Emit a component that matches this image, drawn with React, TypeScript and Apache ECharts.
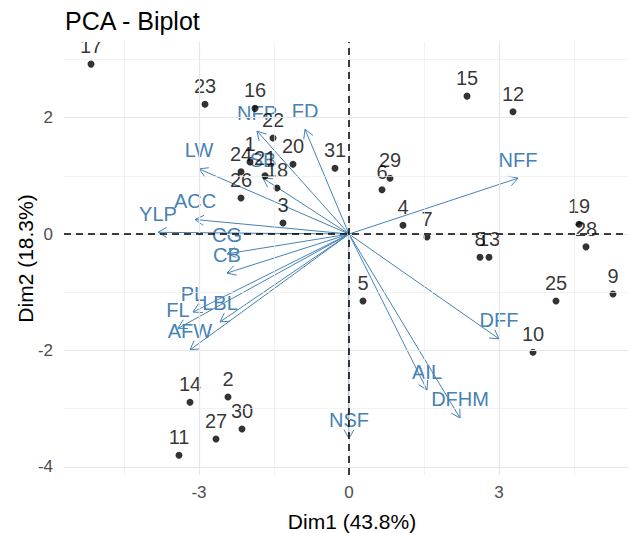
import React, { useEffect, useRef } from "react";
import * as echarts from "echarts";

const FONT = "'Liberation Sans', Arial, Helvetica, sans-serif";
const VAR_COLOR = "#4682B4";

// Individuals (samples)
const indNames = [
  "1", "2", "3", "4", "5", "6", "7", "8", "9", "10",
  "11", "12", "13", "14", "15", "16", "17", "18", "19", "20",
  "21", "22", "23", "24", "25", "26", "27", "28", "29", "30", "31",
];
const indX = [
  -1.98, -2.42, -1.32, 1.08, 0.28, 0.66, 1.56, 2.62, 5.28, 3.68,
  -3.4, 3.28, 2.8, -3.18, 2.36, -1.88, -5.16, -1.44, 4.6, -1.12,
  -1.68, -1.52, -2.88, -2.16, 4.14, -2.16, -2.66, 4.74, 0.82, -2.14, -0.28,
];
const indY = [
  1.24, -2.8, 0.19, 0.15, -1.15, 0.76, -0.05, -0.4, -1.03, -2.03,
  -3.8, 2.1, -0.4, -2.89, 2.37, 2.16, 2.92, 0.79, 0.17, 1.2,
  1.0, 1.65, 2.23, 1.07, -1.15, 0.62, -3.52, -0.22, 0.96, -3.35, 1.13,
];

// Variables (loadings arrows)
const varNames = [
  "NFF", "FD", "NFP", "LW", "SB", "ACC", "YLP", "CG", "CB",
  "PL", "LBL", "FL", "AFW", "DFF", "AIL", "DFHM", "NSF",
];
const varX = [
  3.38, -0.88, -1.84, -3.0, -1.72, -3.08, -3.82, -2.44, -2.44,
  -3.12, -2.58, -3.42, -3.18, 3.0, 1.56, 2.22, 0.0,
];
const varY = [
  0.96, 1.8, 1.77, 1.12, 0.96, 0.25, 0.03, -0.34, -0.67,
  -1.34, -1.51, -1.62, -1.99, -1.8, -2.68, -3.16, -3.51,
];

// Axis ticks / grid breaks
const xMajor = [-3, 0, 3];
const xMinor = [-4.5, -1.5, 1.5, 4.5];
const yMajor = [-4, -2, 0, 2];
const yMinor = [-3, -1, 1, 3];

const X_MIN = -5.7;
const X_MAX = 5.58;
const Y_MIN = -4.14;
const Y_MAX = 3.3;

export default function App() {
  const ref = useRef<HTMLDivElement | null>(null);

  useEffect(() => {
    if (!ref.current) return;
    const chart = echarts.init(ref.current, null, { renderer: "svg" });

    const option: any = {
      animation: false,
      backgroundColor: "#ffffff",
      textStyle: { fontFamily: FONT },
      grid: {
        left: 64,
        right: 2,
        top: 42,
        bottom: 58,
        containLabel: false,
        outerBoundsMode: "none",
      },
      xAxis: {
        type: "value",
        min: X_MIN,
        max: X_MAX,
        name: "Dim1 (43.8%)",
        nameLocation: "middle",
        nameGap: 36,
        nameMoveOverlap: false,
        nameTextStyle: {
          fontSize: 21,
          color: "#000",
          fontFamily: FONT,
          padding: [0, 0, 0, 12],
        },
        axisLine: { show: false },
        axisTick: {
          show: true,
          length: 5,
          customValues: xMajor,
          lineStyle: { color: "#333", width: 1 },
        },
        axisLabel: {
          customValues: xMajor,
          fontSize: 17,
          color: "#4d4d4d",
          margin: 9,
          fontFamily: FONT,
        },
        splitLine: { show: false },
      },
      yAxis: {
        type: "value",
        min: Y_MIN,
        max: Y_MAX,
        name: "Dim2 (18.3%)",
        nameLocation: "middle",
        nameGap: 28,
        nameMoveOverlap: false,
        nameRotate: 90,
        nameTextStyle: { fontSize: 21, color: "#000", fontFamily: FONT },
        axisLine: { show: false },
        axisTick: {
          show: true,
          length: 5,
          customValues: yMajor,
          lineStyle: { color: "#333", width: 1 },
        },
        axisLabel: {
          customValues: yMajor,
          fontSize: 17,
          color: "#4d4d4d",
          margin: 11,
          fontFamily: FONT,
        },
        splitLine: { show: false },
      },
      graphic: [
        {
          type: "rect",
          z: 100,
          shape: { x: 0, y: 0, width: 630, height: 42 },
          style: { fill: "#ffffff" },
          silent: true,
        },
        {
          type: "text",
          z: 101,
          x: 65,
          y: 20.5,
          style: {
            text: "PCA - Biplot",
            fontSize: 25,
            fill: "#000",
            fontFamily: FONT,
            verticalAlign: "middle",
            align: "left",
          },
          silent: true,
        },
      ],
      series: [
        {
          type: "scatter",
          z: 1,
          data: [],
          silent: true,
          markLine: {
            silent: true,
            symbol: ["none", "none"],
            label: { show: false },
            lineStyle: { color: "#ededed", width: 0.7, type: "solid" },
            emphasis: { disabled: true },
            data: [
              ...xMinor.map((v) => ({ xAxis: v })),
              ...yMinor.map((v) => ({ yAxis: v })),
            ],
          },
        },
        {
          type: "scatter",
          z: 1,
          data: [],
          silent: true,
          markLine: {
            silent: true,
            symbol: ["none", "none"],
            label: { show: false },
            lineStyle: { color: "#e6e6e6", width: 1.2, type: "solid" },
            emphasis: { disabled: true },
            data: [
              ...xMajor.map((v) => ({ xAxis: v })),
              ...yMajor.map((v) => ({ yAxis: v })),
            ],
          },
        },
        {
          type: "scatter",
          z: 2,
          data: [],
          silent: true,
          markLine: {
            silent: true,
            symbol: ["none", "none"],
            label: { show: false },
            lineStyle: { color: "#000", width: 1.5, type: [7, 5] },
            emphasis: { disabled: true },
            data: [{ xAxis: 0 }, { yAxis: 0 }],
          },
        },
        {
          type: "custom",
          z: 3,
          silent: true,
          encode: { x: 0, y: 1 },
          data: varX.map((x, i) => [x, varY[i]]),
          renderItem: (params: any, api: any) => {
            const i = params.dataIndex;
            const p0 = api.coord([0, 0]);
            const p1 = api.coord([api.value(0), api.value(1)]);
            const ang = Math.atan2(p1[1] - p0[1], p1[0] - p0[0]);
            const L = 10;
            const a = Math.PI / 6;
            const h1 = [p1[0] - L * Math.cos(ang - a), p1[1] - L * Math.sin(ang - a)];
            const h2 = [p1[0] - L * Math.cos(ang + a), p1[1] - L * Math.sin(ang + a)];
            return {
              type: "group",
              children: [
                {
                  type: "line",
                  shape: { x1: p0[0], y1: p0[1], x2: p1[0], y2: p1[1] },
                  style: { stroke: VAR_COLOR, lineWidth: 1 },
                },
                {
                  type: "polyline",
                  shape: { points: [h1, p1, h2] },
                  style: { stroke: VAR_COLOR, lineWidth: 1, fill: "none" },
                },
                {
                  type: "text",
                  x: p1[0],
                  y: p1[1] - 18.5,
                  style: {
                    text: varNames[i],
                    align: "center",
                    verticalAlign: "middle",
                    fill: VAR_COLOR,
                    fontSize: 20,
                    fontFamily: FONT,
                  },
                },
              ],
            };
          },
        },
        {
          type: "scatter",
          z: 4,
          silent: true,
          symbol: "circle",
          symbolSize: 7,
          itemStyle: { color: "#000" },
          data: indX.map((x, i) => ({ value: [x, indY[i]], name: indNames[i] })),
          label: {
            show: true,
            position: "inside",
            offset: [0, -18],
            formatter: (p: any) => p.name,
            color: "#000",
            fontSize: 20,
            fontFamily: FONT,
          },
        },
      ],
    };

    chart.setOption(option);
    return () => {
      chart.dispose();
    };
  }, []);

  return (
    <div
      ref={ref}
      style={{ position: "fixed", left: 0, top: 0, width: 630, height: 533, background: "#fff" }}
    />
  );
}
